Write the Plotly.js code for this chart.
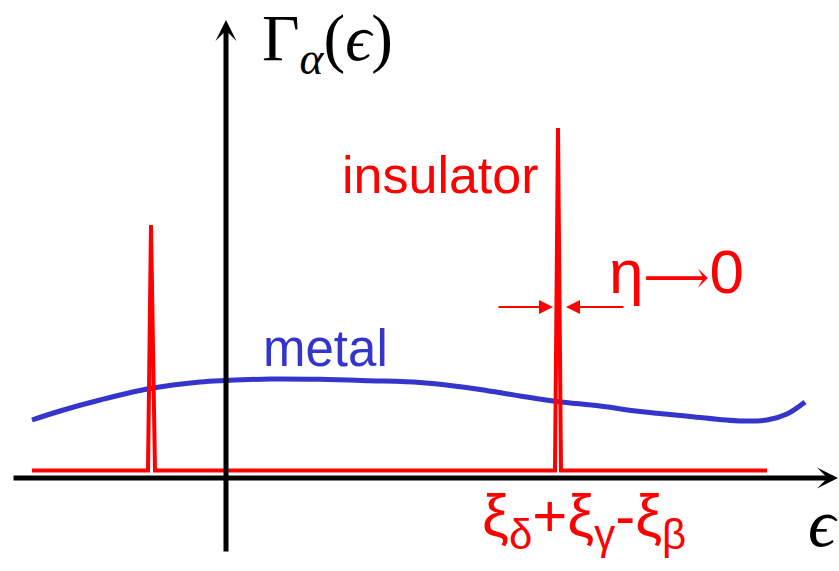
<!DOCTYPE html>
<html>
<head>
<meta charset="utf-8">
<script src="https://cdn.plot.ly/plotly-3.0.1.min.js"></script>
<style>
  html, body { margin: 0; padding: 0; background: #fff; }
  #chart { width: 839px; height: 571px; }
</style>
</head>
<body>
<div id="chart"></div>
<script>
// metal: smooth broad spectral function
var metalX = [-194, -166, -126, -76, -26, 0, 44, 94, 144, 194, 224, 254, 294, 331, 374, 414, 464, 514, 541, 561, 579];
var metalY = [58, 67, 78, 89.5, 96, 97.5, 99, 98.7, 97.3, 95.5, 92.5, 88.5, 82, 76.5, 72, 66.5, 61.5, 57, 58, 64, 76];

// insulator: two sharp peaks on a flat baseline
var insX = [-194, -78, -75, -71, 329, 332, 335, 541];
var insY = [7.5, 7.5, 253, 7.5, 7.5, 350, 7.5, 7.5];

var red = '#ff0000';
var blue = '#3535cc';

var data = [{
  x: metalX,
  y: metalY,
  mode: 'lines',
  line: {color: blue, width: 5, shape: 'spline', smoothing: 1},
  hoverinfo: 'skip'
}, {
  x: insX,
  y: insY,
  mode: 'lines',
  line: {color: red, width: 4},
  hoverinfo: 'skip'
}];

function arrow(x, y, ax, ay, color, width, head, size) {
  return {
    x: x, y: y, ax: ax, ay: ay,
    xref: 'x', yref: 'y', axref: 'x', ayref: 'y',
    text: '', showarrow: true,
    arrowcolor: color, arrowwidth: width,
    arrowhead: head, arrowsize: size, standoff: 0
  };
}

function label(x, y, text, color, size, family) {
  return {
    x: x, y: y, xref: 'x', yref: 'y',
    text: text, showarrow: false,
    xanchor: 'center', yanchor: 'middle',
    font: {color: color, size: size, family: family}
  };
}

var sans = 'Liberation Sans, Arial, sans-serif';
var serif = 'Liberation Serif, DejaVu Serif, serif';

var layout = {
  width: 839,
  height: 571,
  margin: {l: 0, r: 0, t: 0, b: 0},
  paper_bgcolor: '#fff',
  plot_bgcolor: '#fff',
  showlegend: false,
  xaxis: {range: [-226, 613], visible: false, fixedrange: true},
  yaxis: {range: [-93, 478], visible: false, fixedrange: true},
  annotations: [
    arrow(612, 0, -214, 0, '#000', 5, 3, 0.7),
    arrow(0, 458, 0, -75, '#000', 5, 3, 0.7),
    arrow(327, 171, 271, 171, red, 2, 2, 1.4),
    arrow(340, 171, 399, 171, red, 2, 2, 1.4),
    label(101, 435, 'Γ<sub><i>α</i></sub>(<i>ϵ</i>)', '#000', 65, serif),
    label(214, 303, 'insulator', red, 52, sans),
    label(99, 130, 'metal', blue, 51, sans),
    label(450, 207, 'η<span style="font-family:DejaVu Serif;font-size:46px">⟶</span>0', red, 62, sans),
    label(358, -42, 'ξ<sub>δ</sub>+ξ<sub>γ</sub>-ξ<sub>β</sub>', red, 60, sans),
    label(597, -45, '<i>ϵ</i>', '#000', 68, serif)
  ]
};

Plotly.newPlot('chart', data, layout, {displayModeBar: false, staticPlot: true});
</script>
</body>
</html>
